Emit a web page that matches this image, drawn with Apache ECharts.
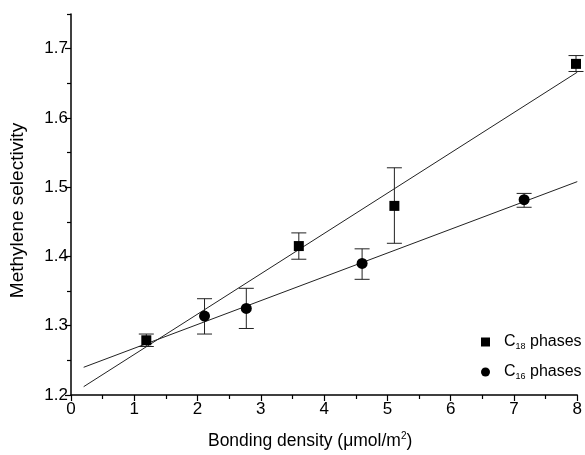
<!DOCTYPE html>
<html>
<head>
<meta charset="utf-8">
<script src="https://cdn.jsdelivr.net/npm/echarts@6/dist/echarts.min.js"></script>
<style>html,body{margin:0;padding:0;background:#fff}#c{width:585px;height:455px}</style>
</head>
<body>
<div id="c"></div>
<script>
// Data
const c18X = [1.19, 3.60, 5.11, 7.98];
const c18Y = [1.279, 1.415, 1.473, 1.678];
const c18Low = [1.270, 1.396, 1.419, 1.667];
const c18High = [1.288, 1.434, 1.528, 1.690];

const c16X = [2.11, 2.77, 4.60, 7.16];
const c16Y = [1.314, 1.325, 1.390, 1.482];
const c16Low = [1.288, 1.296, 1.367, 1.471];
const c16High = [1.339, 1.354, 1.411, 1.491];

// Linear fit lines (end points)
const fitC18X = [0.2, 8.0];
const fitC18Y = [1.212, 1.666];
const fitC16X = [0.2, 8.0];
const fitC16Y = [1.240, 1.508];

const yMajorTicks = [1.2, 1.3, 1.4, 1.5, 1.6, 1.7];
const yMinorTicks = [1.25, 1.35, 1.45, 1.55, 1.65, 1.75];

const FONT = 'Liberation Sans, Arial, sans-serif';

function pairs(xs, ys) { return xs.map((x, i) => [x, ys[i]]); }
function triples(xs, lo, hi) { return xs.map((x, i) => [x, lo[i], hi[i]]); }

function errorBarRender(params, api) {
  const x = api.value(0);
  const lo = api.coord([x, api.value(1)]);
  const hi = api.coord([x, api.value(2)]);
  const hw = 7.5;
  const style = { stroke: '#222', lineWidth: 1 };
  return {
    type: 'group',
    children: [
      { type: 'line', shape: { x1: lo[0], y1: lo[1], x2: hi[0], y2: hi[1] }, style },
      { type: 'line', shape: { x1: lo[0] - hw, y1: lo[1], x2: lo[0] + hw, y2: lo[1] }, style },
      { type: 'line', shape: { x1: hi[0] - hw, y1: hi[1], x2: hi[0] + hw, y2: hi[1] }, style }
    ]
  };
}

const chart = echarts.init(document.getElementById('c'), null, { renderer: 'canvas' });
chart.setOption({
  animation: false,
  backgroundColor: '#fff',
  textStyle: { fontFamily: FONT, color: '#000' },
  grid: { left: 71, right: 7, top: 14, bottom: 57, containLabel: false },
  legend: {
    orient: 'vertical',
    left: 476,
    top: 329,
    itemWidth: 9,
    itemHeight: 9,
    itemGap: 13,
    data: ['C18', 'C16'],
    formatter: function (name) {
      return '{n|C}{s|' + name.slice(1) + '}{n| phases}';
    },
    textStyle: {
      fontFamily: FONT,
      padding: [0, 0, 0, 9],
      rich: {
        n: { fontSize: 16, color: '#000', fontFamily: FONT, lineHeight: 18 },
        s: { fontSize: 9, color: '#000', fontFamily: FONT, verticalAlign: 'bottom', lineHeight: 18, padding: [6, 0, 0, 0] }
      }
    }
  },
  xAxis: {
    type: 'value',
    min: 0, max: 8, interval: 1,
    name: '{a|Bonding density (\u03bcmol/m}{b|2}{a|)}',
    nameLocation: 'middle',
    nameGap: 36,
    nameTextStyle: {
      padding: [0, 28, 0, 0],
      rich: {
        a: { fontSize: 17.5, color: '#000', fontFamily: FONT, lineHeight: 20 },
        b: { fontSize: 10, color: '#000', fontFamily: FONT, verticalAlign: 'top', lineHeight: 20 }
      }
    },
    axisLine: { show: true, onZero: false, lineStyle: { color: '#000', width: 1.5 } },
    axisTick: { show: true, inside: false, length: 6, lineStyle: { color: '#000', width: 1.2 } },
    minorTick: { show: true, splitNumber: 2, length: 4, lineStyle: { color: '#000', width: 1.2 } },
    axisLabel: { fontSize: 17, color: '#000', margin: 6, fontFamily: FONT },
    splitLine: { show: false }
  },
  yAxis: [
    {
      type: 'value',
      min: 1.2, max: 1.75,
      name: 'Methylene selectivity',
      nameLocation: 'middle',
      nameGap: 44,
      nameTextStyle: { fontSize: 19, color: '#000', fontFamily: FONT, padding: [0, 12, 0, 0] },
      axisLine: { show: true, onZero: false, lineStyle: { color: '#000', width: 1.5 } },
      axisTick: { show: true, inside: false, length: 6, customValues: yMajorTicks, lineStyle: { color: '#000', width: 1.2 } },
      axisLabel: { fontSize: 17, color: '#000', margin: 3, fontFamily: FONT, customValues: yMajorTicks,
        formatter: v => v.toFixed(1) },
      splitLine: { show: false }
    },
    {
      type: 'value',
      min: 1.2, max: 1.75,
      position: 'left',
      axisLine: { show: false },
      axisTick: { show: true, inside: false, length: 4, customValues: yMinorTicks, lineStyle: { color: '#000', width: 1.2 } },
      axisLabel: { show: false },
      splitLine: { show: false }
    }
  ],
  series: [
    {
      name: 'fitC18', type: 'line', data: pairs(fitC18X, fitC18Y),
      symbol: 'none', lineStyle: { color: '#222', width: 1 }, silent: true, z: 1
    },
    {
      name: 'fitC16', type: 'line', data: pairs(fitC16X, fitC16Y),
      symbol: 'none', lineStyle: { color: '#222', width: 1 }, silent: true, z: 1
    },
    {
      name: 'errC18', type: 'custom', renderItem: errorBarRender,
      encode: { x: 0, y: [1, 2] }, data: triples(c18X, c18Low, c18High), clip: false, z: 2
    },
    {
      name: 'errC16', type: 'custom', renderItem: errorBarRender,
      encode: { x: 0, y: [1, 2] }, data: triples(c16X, c16Low, c16High), clip: false, z: 2
    },
    {
      name: 'C18', type: 'scatter', data: pairs(c18X, c18Y),
      symbol: 'rect', symbolSize: 10, itemStyle: { color: '#000', opacity: 1 }, clip: false, z: 3
    },
    {
      name: 'C16', type: 'scatter', data: pairs(c16X, c16Y),
      symbol: 'circle', symbolSize: 11, itemStyle: { color: '#000', opacity: 1 }, clip: false, z: 3
    }
  ]
});
</script>
</body>
</html>
